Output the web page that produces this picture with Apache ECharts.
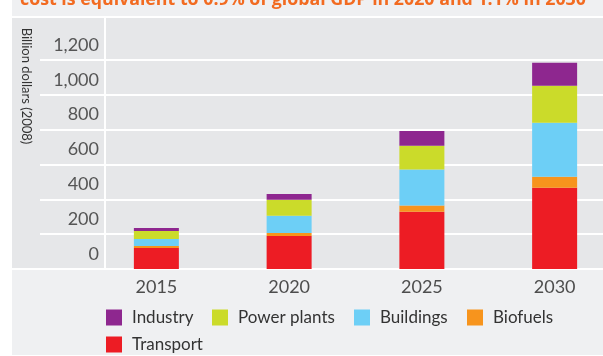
<!DOCTYPE html>
<html>
<head>
<meta charset="utf-8">
<script src="https://cdn.jsdelivr.net/npm/echarts@6/dist/echarts.min.js"></script>
<style>
  html, body { margin: 0; padding: 0; background: #ffffff; }
  #chart { width: 603px; height: 356px; }
</style>
</head>
<body>
<div id="chart"></div>
<script>
// Abatement cost by sector, billion dollars (2008)
var years = ['2015', '2020', '2025', '2030'];
var transport   = [121, 190, 328, 467];
var biofuels    = [11, 17, 36, 62];
var buildings   = [40, 99, 207, 310];
var powerPlants = [46, 91, 136, 213];
var industry    = [18, 34, 86, 132];
var yTicks = { min: 0, max: 1200, step: 200 };

var headline = 'cost is equivalent to 0.9% of global GDP in 2020 and 1.1% in 2030';
var yTitle = 'Billion dollars (2008)';

var colors = {
  'Transport': '#ed1c24',
  'Biofuels': '#f7941d',
  'Buildings': '#6dcff6',
  'Power plants': '#cbdb2a',
  'Industry': '#8e278f'
};

var chart = echarts.init(document.getElementById('chart'), null, { renderer: 'canvas' });

var FONT = 'Lato, "Open Sans", sans-serif';
var PLOT_TOP = 60, PLOT_HEIGHT = 209;

function bar(name, values) {
  return {
    name: name,
    type: 'bar',
    stack: 'total',
    xAxisIndex: 1,
    yAxisIndex: 1,
    barWidth: 45,
    itemStyle: { color: colors[name] },
    emphasis: { disabled: true },
    data: values
  };
}

function legendItem(name, left, top) {
  return {
    data: [name],
    left: left,
    top: top,
    padding: 0,
    itemWidth: 16,
    itemHeight: 16,
    icon: 'rect',
    selectedMode: false,
    textStyle: {
      fontFamily: FONT,
      fontSize: 17,
      color: '#333333',
      padding: [0, 0, 0, 5]
    }
  };
}

var option = {
  animation: false,
  backgroundColor: '#ffffff',
  graphic: [
    // outer panel
    { type: 'rect', z: -10, silent: true, shape: { x: 12, y: 0, width: 591, height: 355 }, style: { fill: '#eff0f2' } },
    // white band above plot
    { type: 'rect', z: -9, silent: true, shape: { x: 12, y: 16, width: 591, height: 2 }, style: { fill: '#ffffff' } },
    // plot background
    { type: 'rect', z: -9, silent: true, shape: { x: 12, y: 18, width: 591, height: 250 }, style: { fill: '#e6e7e9' } },
    // baseline band
    { type: 'rect', z: -9, silent: true, shape: { x: 12, y: 268, width: 591, height: 2 }, style: { fill: '#ffffff' } },
    // divider between label column and plot
    { type: 'rect', z: -8, silent: true, shape: { x: 104, y: 18, width: 2, height: 250 }, style: { fill: '#ffffff' } },
    // headline (cut off at top)
    {
      type: 'text', silent: true, z: 5,
      style: {
        text: headline, x: 20, y: 9,
        fill: '#f26b21',
        font: 'bold 17.8px "Open Sans", "Noto Sans", sans-serif',
        textVerticalAlign: 'bottom'
      }
    },
    // vertical axis title
    {
      type: 'text', silent: true, z: 5,
      x: 26, y: 86, rotation: -Math.PI / 2,
      style: {
        text: yTitle,
        fill: '#333333',
        font: '13px Lato, "Open Sans", sans-serif',
        textAlign: 'center',
        textVerticalAlign: 'middle'
      }
    }
  ],
  legend: [
    legendItem('Industry', 106, 309),
    legendItem('Power plants', 212, 309),
    legendItem('Buildings', 354, 309),
    legendItem('Biofuels', 467, 309),
    legendItem('Transport', 106, 336)
  ],
  grid: [
    { left: 40, width: 563, top: PLOT_TOP, height: PLOT_HEIGHT, outerBoundsMode: 'none' },
    { left: 90, width: 531, top: PLOT_TOP, height: PLOT_HEIGHT, outerBoundsMode: 'none' }
  ],
  xAxis: [
    { gridIndex: 0, type: 'category', data: years, show: false },
    {
      gridIndex: 1, type: 'category', data: years,
      axisLine: { show: false }, axisTick: { show: false },
      axisLabel: { fontFamily: FONT, fontSize: 18, color: '#4d4d4d', margin: 9 }
    }
  ],
  yAxis: [
    {
      gridIndex: 0, type: 'value',
      min: yTicks.min, max: yTicks.max, interval: yTicks.step,
      axisLine: { show: false }, axisTick: { show: false },
      splitLine: { lineStyle: { color: '#ffffff', width: 2 } },
      axisLabel: {
        fontFamily: FONT, fontSize: 18, color: '#555555',
        align: 'right', verticalAlign: 'bottom',
        margin: -59, padding: [0, 0, 6, 0],
        formatter: function (v) { return v.toLocaleString('en-US'); }
      }
    },
    {
      gridIndex: 1, type: 'value',
      min: yTicks.min, max: yTicks.max, interval: yTicks.step,
      show: false, splitLine: { show: false }
    }
  ],
  series: [
    bar('Transport', transport),
    bar('Biofuels', biofuels),
    bar('Buildings', buildings),
    bar('Power plants', powerPlants),
    bar('Industry', industry)
  ]
};

chart.setOption(option);
</script>
</body>
</html>
